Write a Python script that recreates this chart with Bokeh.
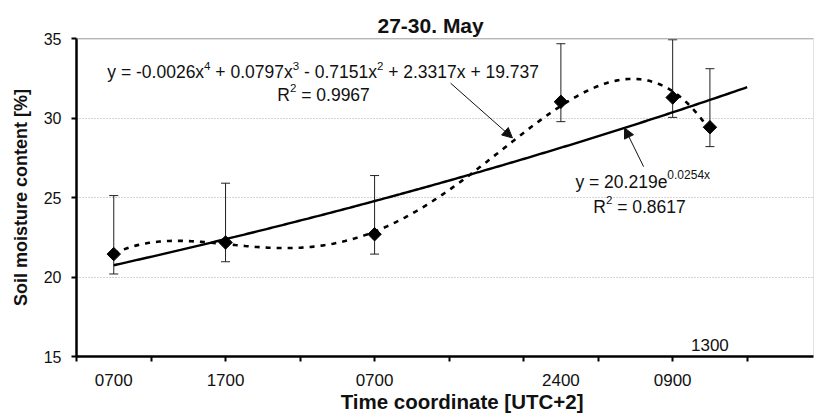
import numpy as np
from bokeh.plotting import figure
from bokeh.models import (FixedTicker, Range1d, Whisker, TeeHead, ColumnDataSource,
                          Label, Arrow, NormalHead, Span, Title)
from bokeh.embed import file_html
from bokeh.resources import INLINE

# ---- data ----
x_vals = [1, 4, 8, 13, 16, 17]
moisture = [21.44, 22.17, 22.69, 31.02, 31.29, 29.42]
err_upper = [25.12, 25.90, 26.38, 34.67, 34.92, 33.10]
err_lower = [20.19, 20.96, 21.44, 29.77, 30.04, 28.20]
tick_labels = ["0700", "1700", "0700", "2400", "0900"]
last_label = "1300"
y_ticks = [15, 20, 25, 30, 35]
exp_a, exp_b = 20.219, 0.0254
# equation pieces: (text, is_superscript)
poly_eq = [("y = -0.0026x", False), ("4", True), (" + 0.0797x", False), ("3", True),
           (" - 0.7151x", False), ("2", True), (" + 2.3317x + 19.737", False)]
poly_r2 = [("R", False), ("2", True), (" = 0.9967", False)]
exp_eq = [("y = 20.219e", False), ("0.0254x", True)]
exp_r2 = [("R", False), ("2", True), (" = 0.8617", False)]

FONT = "Liberation Sans"
x_end = 19.78
y_start, y_end = 15, 35
LIFT = 5.5   # baseline correction for Label text in pixels

src = ColumnDataSource(dict(x=x_vals, y=moisture, upper=err_upper, lower=err_lower))

title = Title(text="27-30. May", align="left", text_font=FONT, text_font_size="21px",
              text_font_style="bold", text_color="#111111", offset=301, standoff=4)

p = figure(width=814, height=415, x_range=Range1d(0, x_end), y_range=Range1d(y_start, y_end),
           output_backend="svg", toolbar_location=None, title=title,
           min_border_left=76, min_border_right=1, min_border_top=38, min_border_bottom=57)
p.background_fill_color = "white"
p.border_fill_color = "white"
p.outline_line_color = "#e2e2e2"

# x axis
ax = p.xaxis[0]
ax.ticker = FixedTicker(ticks=x_vals[:5], minor_ticks=list(range(0, 20, 2)))
ax.major_label_overrides = {float(x): lab for x, lab in zip(x_vals[:5], tick_labels)}
ax.major_tick_line_color = None
ax.major_tick_out = 0
ax.major_tick_in = 0
ax.minor_tick_out = 5
ax.minor_tick_in = 0
ax.minor_tick_line_color = "black"
ax.minor_tick_line_width = 2
ax.axis_line_color = "black"
ax.axis_line_width = 2.5
ax.major_label_text_font = FONT
ax.major_label_text_font_size = "17px"
ax.major_label_text_color = "#111111"
ax.major_label_standoff = 12
ax.axis_label = "\u00a0" * 6 + "Time coordinate [UTC+2]"
ax.axis_label_text_font = FONT
ax.axis_label_text_font_size = "20.5px"
ax.axis_label_text_font_style = "bold"
ax.axis_label_text_color = "#111111"
ax.axis_label_standoff = 1

# y axis
ay = p.yaxis[0]
ay.ticker = FixedTicker(ticks=y_ticks, minor_ticks=[])
ay.major_tick_out = 5
ay.major_tick_in = 0
ay.major_tick_line_width = 2
ay.major_tick_line_color = "black"
ay.axis_line_color = "black"
ay.axis_line_width = 2.5
ay.major_label_text_font = FONT
ay.major_label_text_font_size = "16px"
ay.major_label_text_color = "#111111"
ay.major_label_standoff = 10
ay.axis_label = "Soil moisture content [%]"
ay.axis_label_text_font = FONT
ay.axis_label_text_font_size = "18px"
ay.axis_label_text_font_style = "bold"
ay.axis_label_text_color = "#111111"
ay.axis_label_standoff = 10

p.xgrid.visible = False
p.ygrid[0].ticker = FixedTicker(ticks=y_ticks[1:-1])
p.ygrid.grid_line_color = "#a8a8a8"
p.ygrid.grid_line_dash = "1 2"
p.ygrid.grid_line_width = 1

p.add_layout(Span(location=y_end, dimension="width", line_color="#8a8a8a", line_width=1.5))

# trendlines
xs_exp = np.linspace(x_vals[0], x_vals[-1] + 1, 200)
p.line(xs_exp, exp_a * np.exp(exp_b * xs_exp), line_color="black", line_width=2.4)

coeffs = np.polyfit(x_vals, moisture, 4)
xs_poly = np.linspace(x_vals[0], x_vals[-1], 300)
p.line(xs_poly, np.polyval(coeffs, xs_poly), line_color="black", line_width=2.6, line_dash="5 6")

# error bars
p.add_layout(Whisker(base="x", upper="upper", lower="lower", source=src,
                     line_color="#222222", line_width=1,
                     upper_head=TeeHead(size=9, line_color="#222222", line_width=1),
                     lower_head=TeeHead(size=9, line_color="#222222", line_width=1)))

p.scatter("x", "y", source=src, marker="square", angle=np.pi / 4, size=9.5,
          fill_color="black", line_color="black")

# ---- annotations with superscripts (Arial / Liberation Sans advance widths) ----
ADV = {" ": 278, "+": 584, "-": 333, ".": 278, "=": 584, "x": 500, "y": 500, "e": 556, "R": 722}
ADV.update({str(d): 556 for d in range(10)})


def text_width(s, size):
    return sum(ADV.get(c, 556) for c in s) * size / 1000.0


def rich(x, y, pieces, size=17.5, sup_size=11.5, rise=6.5, align="left"):
    widths = [text_width(t, sup_size if sup else size) for t, sup in pieces]
    total = sum(widths)
    off = -total / 2 if align == "center" else 0.0
    for (t, sup), w in zip(pieces, widths):
        fs = sup_size if sup else size
        stripped = t.lstrip(" ")
        lead = text_width(t[:len(t) - len(stripped)], fs)
        p.add_layout(Label(x=x, y=y, x_offset=off + lead,
                           y_offset=LIFT + (rise if sup else 0), text=stripped,
                           text_font=FONT, text_font_size=f"{fs}px",
                           text_align="left", text_baseline="alphabetic",
                           text_color="#111111"))
        off += w


rich(6.62, 32.52, poly_eq, align="center")
rich(5.39, 31.12, poly_r2)
rich(13.39, 25.61, exp_eq, sup_size=12, rise=7.5)
rich(13.87, 24.06, exp_r2)

p.add_layout(Label(x=x_vals[-1], y=15.37, y_offset=LIFT, text=last_label, text_font=FONT,
                   text_font_size="17px", text_align="center", text_baseline="alphabetic",
                   text_color="#111111"))

p.add_layout(Arrow(x_start=10.04, y_start=32.19, x_end=11.70, y_end=28.75, line_width=1,
                   line_color="#111111",
                   end=NormalHead(size=10, fill_color="#111111", line_color="#111111")))
p.add_layout(Arrow(x_start=15.22, y_start=26.94, x_end=14.71, y_end=29.375, line_width=1,
                   line_color="#111111",
                   end=NormalHead(size=10, fill_color="#111111", line_color="#111111")))

open("out.html", "w").write(file_html(p, INLINE))
